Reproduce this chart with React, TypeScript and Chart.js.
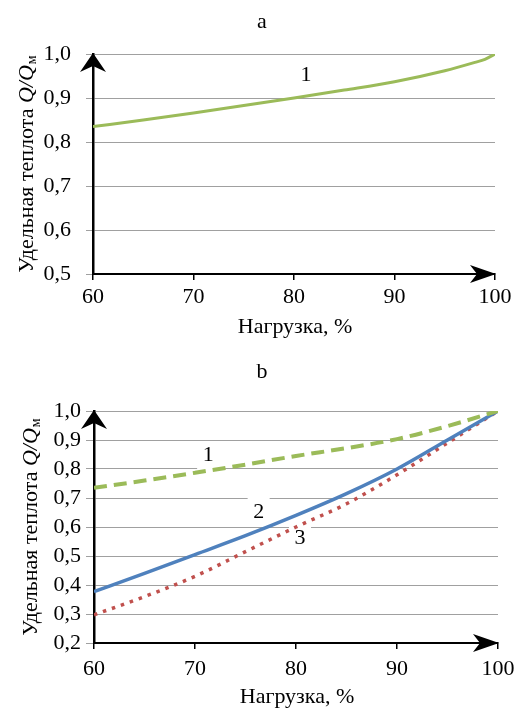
import React, { useEffect, useRef } from "react";
import { Chart, registerables } from "chart.js";

Chart.register(...registerables);

// ---------- data ----------
const loadA = [60, 65, 70, 75, 80, 85, 90, 95, 98, 99, 100];
const curveA1 = [0.835, 0.85, 0.866, 0.883, 0.9, 0.918, 0.937, 0.962, 0.981, 0.988, 1.0];

const loadB = [60, 65, 70, 75, 80, 85, 90, 95, 100];
const curveB1 = [0.735, 0.76, 0.787, 0.815, 0.845, 0.872, 0.903, 0.948, 1.0];
const curveB2 = [0.377, 0.44, 0.505, 0.57, 0.64, 0.715, 0.8, 0.9, 1.0];
const curveB3 = [0.297, 0.36, 0.43, 0.515, 0.6, 0.68, 0.78, 0.89, 1.0];

const xTickValues = [60, 70, 80, 90, 100];
const yTicksA = [0.5, 0.6, 0.7, 0.8, 0.9, 1.0];
const yTicksB = [0.2, 0.3, 0.4, 0.5, 0.6, 0.7, 0.8, 0.9, 1.0];

const titleA = "a";
const titleB = "b";
const xTitle = "Нагрузка, %";
const yTitleMain = "Удельная теплота ";
const yTitleItalic = "Q/Q";
const yTitleSub = "м";

// curve labels in data coordinates
const labelsA = [{ text: "1", x: 81.2, y: 0.952, box: false }];
const labelsB = [
  { text: "1", x: 71.3, y: 0.848, box: true },
  { text: "2", x: 76.3, y: 0.652, box: true },
  { text: "3", x: 80.4, y: 0.562, box: true },
];

// ---------- styles ----------
const FONT = '"Liberation Serif", "Times New Roman", serif';
const GREEN = "#9BBB59";
const BLUE = "#4F81BD";
const RED = "#C0504D";
const fmt = (v: number) => v.toFixed(1).replace(".", ",");

type Lbl = { text: string; x: number; y: number; box: boolean };

function makePlugin(cfg: {
  title: string;
  titleY: number;
  yTitleX: number;
  xTitleY: number;
  labels: Lbl[];
}) {
  return {
    id: "decor",
    beforeDatasetsDraw(chart: any) {
      const { ctx, scales } = chart;
      ctx.save();
      ctx.fillStyle = "#fff";
      for (const l of cfg.labels) {
        if (!l.box) continue;
        const px = scales.x.getPixelForValue(l.x);
        const py = scales.y.getPixelForValue(l.y);
        ctx.fillRect(px - 11, py - 14, 22, 28);
      }
      ctx.restore();
    },
    afterDraw(chart: any) {
      const { ctx, chartArea, scales } = chart;
      const { left, right, top, bottom } = chartArea;
      ctx.save();
      ctx.fillStyle = "#000";
      // arrows
      ctx.beginPath();
      ctx.moveTo(left, top - 1);
      ctx.lineTo(left - 13, top + 18);
      ctx.lineTo(left, top + 12);
      ctx.lineTo(left + 13, top + 18);
      ctx.closePath();
      ctx.fill();
      ctx.beginPath();
      ctx.moveTo(right + 1, bottom);
      ctx.lineTo(right - 25, bottom - 9);
      ctx.lineTo(right - 18, bottom);
      ctx.lineTo(right - 25, bottom + 9);
      ctx.closePath();
      ctx.fill();

      // curve labels
      ctx.font = `22px ${FONT}`;
      ctx.textAlign = "center";
      ctx.textBaseline = "middle";
      for (const l of cfg.labels) {
        ctx.fillText(l.text, scales.x.getPixelForValue(l.x), scales.y.getPixelForValue(l.y));
      }
      // panel title
      ctx.fillText(cfg.title, chart.width / 2 + 2, cfg.titleY);
      // x title
      ctx.fillText(xTitle, (left + right) / 2 + 1, cfg.xTitleY);

      // y title (rotated, mixed styles)
      const main = `22px ${FONT}`;
      const ital = `italic 22px ${FONT}`;
      const sub = `14px ${FONT}`;
      ctx.font = main;
      const w1 = ctx.measureText(yTitleMain).width;
      ctx.font = ital;
      const w2 = ctx.measureText(yTitleItalic).width;
      ctx.font = sub;
      const w3 = ctx.measureText(yTitleSub).width;
      const total = w1 + w2 + w3 + 1;
      ctx.translate(cfg.yTitleX, (top + bottom) / 2);
      ctx.rotate(-Math.PI / 2);
      ctx.textAlign = "left";
      ctx.textBaseline = "alphabetic";
      let sx = -total / 2;
      ctx.font = main;
      ctx.fillText(yTitleMain, sx, 0);
      sx += w1;
      ctx.font = ital;
      ctx.fillText(yTitleItalic, sx, 0);
      sx += w2 + 1;
      ctx.font = sub;
      ctx.fillText(yTitleSub, sx, 3);
      ctx.restore();
    },
  };
}

function makeOptions(p: {
  yMin: number;
  yMax: number;
  yTicks: number[];
  yTickPad: number;
  yTickLen: number;
  xTickPad: number;
  padTop: number;
  padRight: number;
  yWidth: number;
  xHeight: number;
}) {
  return {
    responsive: true,
    maintainAspectRatio: false,
    animation: false,
    layout: { padding: { top: p.padTop, right: p.padRight, left: 0, bottom: 0 } },
    plugins: { legend: { display: false }, tooltip: { enabled: false }, title: { display: false } },
    elements: { point: { radius: 0 } },
    scales: {
      x: {
        type: "linear",
        min: 60,
        max: 100,
        afterBuildTicks: (s: any) => {
          s.ticks = xTickValues.map((v) => ({ value: v }));
        },
        afterFit: (s: any) => {
          s.height = p.xHeight;
          s.paddingLeft = 0;
          s.paddingRight = 0;
        },
        grid: { drawOnChartArea: false, drawTicks: true, tickLength: 6, color: "#000", lineWidth: 1.5 },
        border: { display: true, color: "#000", width: 2 },
        ticks: {
          color: "#000",
          font: { family: FONT, size: 22 },
          padding: p.xTickPad,
          maxRotation: 0,
          autoSkip: false,
          callback: (v: any) => String(v),
        },
      },
      y: {
        type: "linear",
        min: p.yMin,
        max: p.yMax,
        afterBuildTicks: (s: any) => {
          s.ticks = p.yTicks.map((v) => ({ value: v }));
        },
        afterFit: (s: any) => {
          s.width = p.yWidth;
          s.paddingTop = 0;
          s.paddingBottom = 0;
        },
        grid: { color: "#a0a0a0", lineWidth: 1, drawTicks: true, tickLength: p.yTickLen },
        border: { display: true, color: "#000", width: 2.5 },
        ticks: {
          color: "#000",
          font: { family: FONT, size: 22 },
          padding: p.yTickPad,
          autoSkip: false,
          callback: (v: any) => fmt(Number(v)),
        },
      },
    },
  };
}

const pts = (xs: number[], ys: number[]) => xs.map((x, i) => ({ x, y: ys[i] }));

export default function App() {
  const refA = useRef<HTMLCanvasElement>(null);
  const refB = useRef<HTMLCanvasElement>(null);

  useEffect(() => {
    const chartA = new Chart(refA.current as HTMLCanvasElement, {
      type: "line",
      data: {
        datasets: [
          {
            data: pts(loadA, curveA1),
            borderColor: GREEN,
            borderWidth: 3,
            cubicInterpolationMode: "monotone",
            pointRadius: 0,
            fill: false,
          },
        ],
      },
      options: makeOptions({
        yMin: 0.5,
        yMax: 1.0,
        yTicks: yTicksA,
        yTickPad: 15,
        yTickLen: 7,
        xTickPad: 4,
        padTop: 54,
        padRight: 25,
        yWidth: 93,
        xHeight: 71,
      }) as any,
      plugins: [makePlugin({ title: titleA, titleY: 22, yTitleX: 33, xTitleY: 327, labels: labelsA })],
    });

    const chartB = new Chart(refB.current as HTMLCanvasElement, {
      type: "line",
      data: {
        datasets: [
          {
            data: pts(loadB, curveB1),
            borderColor: GREEN,
            borderWidth: 4,
            borderDash: [13, 7],
            cubicInterpolationMode: "monotone",
            pointRadius: 0,
            fill: false,
          },
          {
            data: pts(loadB, curveB2),
            borderColor: BLUE,
            borderWidth: 3.5,
            cubicInterpolationMode: "monotone",
            pointRadius: 0,
            fill: false,
          },
          {
            data: pts(loadB, curveB3),
            borderColor: RED,
            borderWidth: 3.5,
            borderDash: [3.5, 6],
            cubicInterpolationMode: "monotone",
            pointRadius: 0,
            fill: false,
          },
        ],
      },
      options: makeOptions({
        yMin: 0.2,
        yMax: 1.0,
        yTicks: yTicksB,
        yTickPad: 5,
        yTickLen: 8,
        xTickPad: 7,
        padTop: 66,
        padRight: 22,
        yWidth: 94,
        xHeight: 68,
      }) as any,
      plugins: [makePlugin({ title: titleB, titleY: 27, yTitleX: 37, xTitleY: 352, labels: labelsB })],
    });

    return () => {
      chartA.destroy();
      chartB.destroy();
    };
  }, []);

  return (
    <div style={{ position: "absolute", left: 0, top: 0, width: 520, height: 711, background: "#fff" }}>
      <div style={{ position: "absolute", left: 0, top: 0, width: 520, height: 345 }}>
        <canvas ref={refA} />
      </div>
      <div style={{ position: "absolute", left: 0, top: 345, width: 520, height: 366 }}>
        <canvas ref={refB} />
      </div>
    </div>
  );
}
